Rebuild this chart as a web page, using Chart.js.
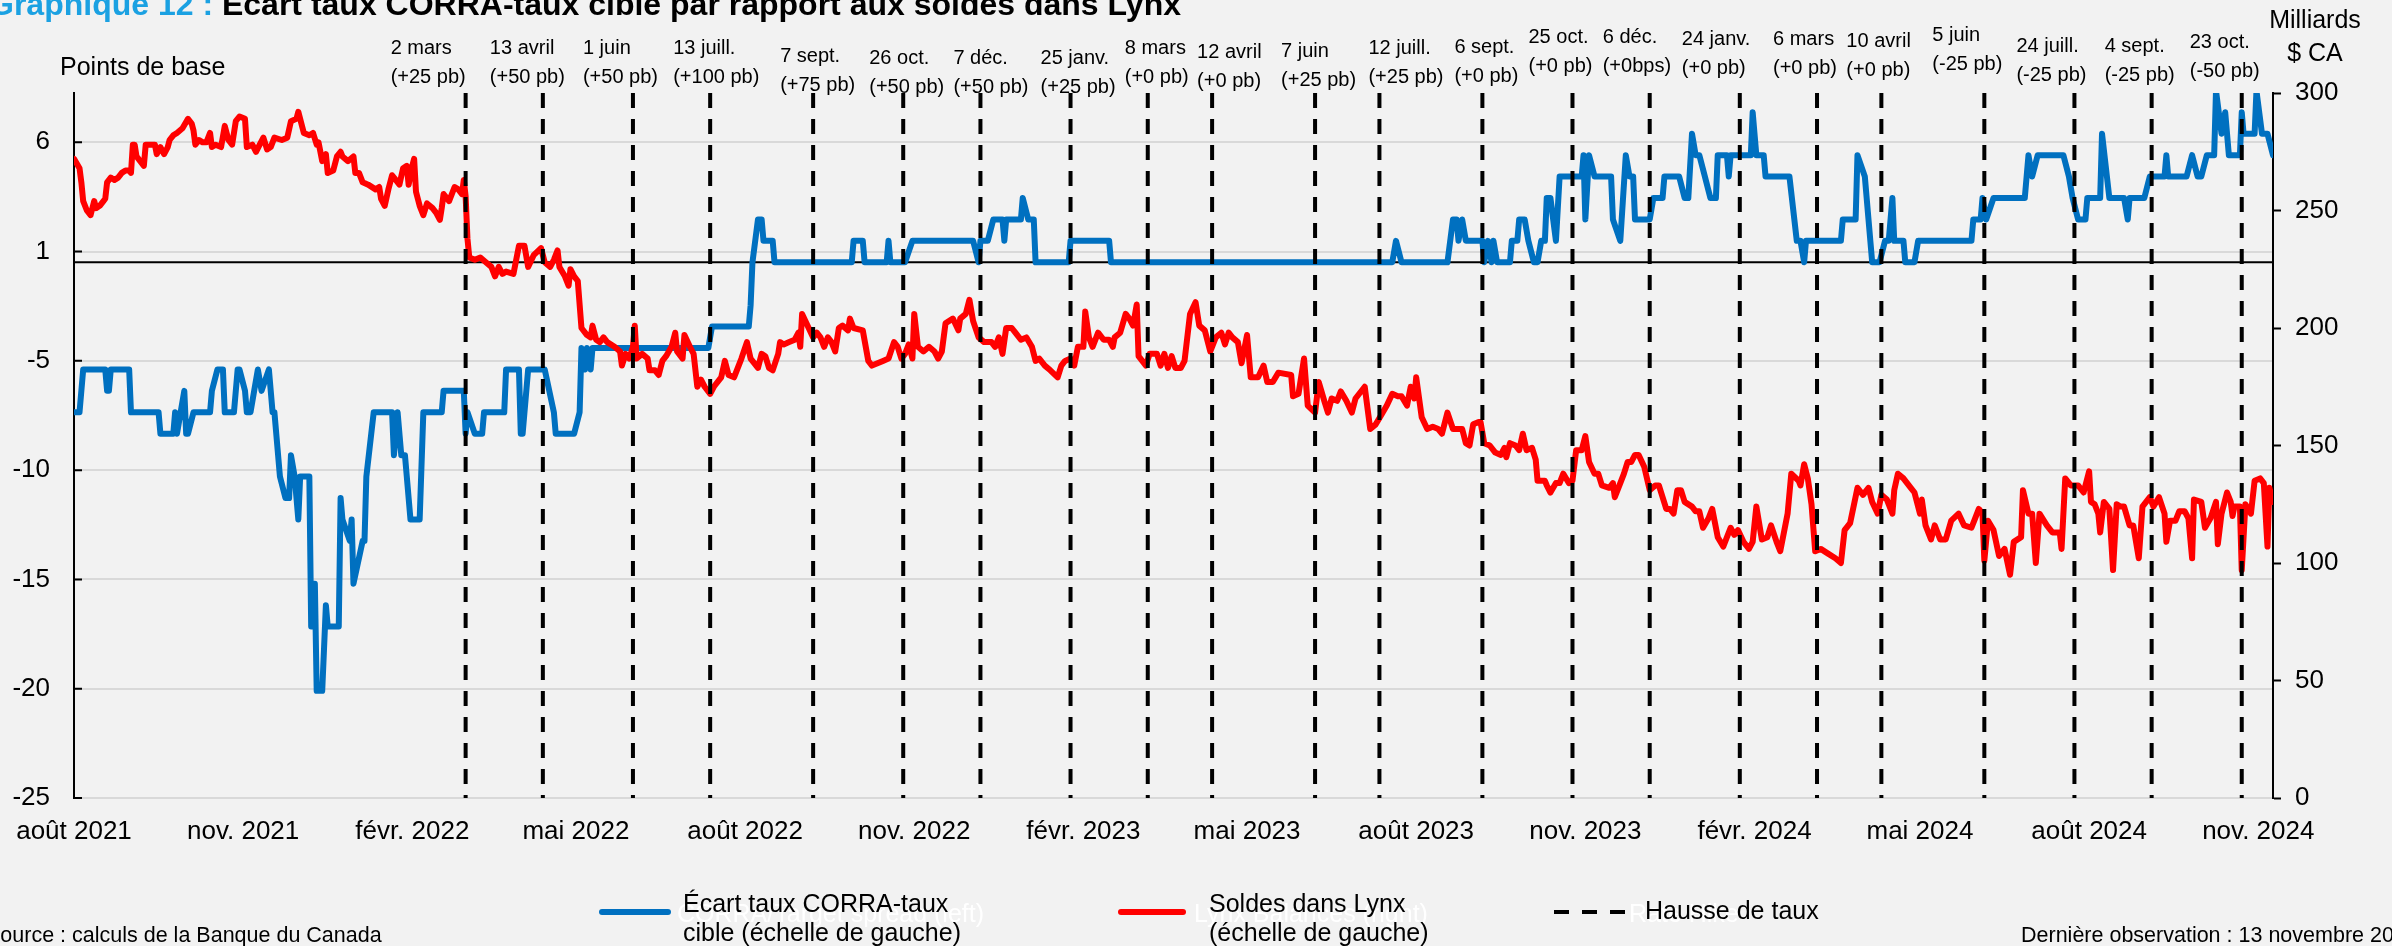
<!DOCTYPE html>
<html lang="fr">
<head>
<meta charset="utf-8">
<title>Écart taux CORRA-taux cible par rapport aux soldes dans Lynx</title>
<script src="https://cdn.jsdelivr.net/npm/chart.js@4.4.1/dist/chart.umd.min.js"></script>
<style>
  html, body { margin: 0; padding: 0; background: #f2f2f2; overflow: hidden; }
  body { width: 2392px; height: 946px; position: relative; color: #000;
         font-family: "Liberation Sans", Arial, sans-serif; }
  canvas { position: absolute; left: 0; top: 0; }
  .txt { position: absolute; white-space: nowrap; }
  #title { left: -11px; top: -12px; font-size: 32px; line-height: 32px; font-weight: bold; }
  #title .lead { color: #1ba1e2; }
  #leftUnit { left: 60px; top: 51px; font-size: 25px; line-height: 30px; }
  #rightUnit { left: 2255px; top: 3px; width: 120px; text-align: center; font-size: 25px; line-height: 33px; }
  .legend { font-size: 25px; line-height: 29px; }
  .ghost { color: #fff; }
  #legendMarks { position: absolute; left: 0; top: 890px; }
  .foot { font-size: 21.5px; line-height: 26px; top: 922px; }
</style>
</head>
<body>
<canvas id="corraChart" width="2392" height="946"></canvas>

<div id="title" class="txt"><span class="lead">Graphique 12 : </span>Écart taux CORRA-taux cible par rapport aux soldes dans Lynx</div>
<div id="leftUnit" class="txt">Points de base</div>
<div id="rightUnit" class="txt">Milliards<br>$ CA</div>

<svg id="legendMarks" width="2392" height="44">
  <line x1="602" y1="22" x2="668" y2="22" stroke="#0070c0" stroke-width="6" stroke-linecap="round"/>
  <line x1="1121" y1="22" x2="1183" y2="22" stroke="#ff0000" stroke-width="6" stroke-linecap="round"/>
  <line x1="1554" y1="22" x2="1625" y2="22" stroke="#000" stroke-width="4" stroke-dasharray="15 13"/>
</svg>
<div class="txt legend ghost" style="left:677px; top:899px;">CORRA/Target spread (left)</div>
<div class="txt legend" style="left:683px; top:889px;">Écart taux CORRA-taux<br>cible (échelle de gauche)</div>
<div class="txt legend ghost" style="left:1194px; top:899px;">Lynx Balances (right)</div>
<div class="txt legend" style="left:1209px; top:889px;">Soldes dans Lynx<br>(échelle de gauche)</div>
<div class="txt legend ghost" style="left:1629px; top:899px;">Rate Hike</div>
<div class="txt legend" style="left:1645px; top:896px;">Hausse de taux</div>

<div class="txt foot" style="left:-14px;">Source : calculs de la Banque du Canada</div>
<div class="txt foot" style="left:2021px;">Dernière observation : 13 novembre 2024</div>

<script>
// x positions are days counted from 1 August 2021
const START = Date.UTC(2021, 7, 1);
const dayOf = (iso) => Math.round((Date.parse(iso) - START) / 86400000);

// CORRA - target spread, basis points (left scale)
const spreadDay = [
  0, 3, 5, 17, 18, 19, 20, 30, 31, 46, 47, 54, 55, 56, 60, 61, 62, 65, 74, 75,
  78, 81, 82, 87, 89, 90, 93, 94, 96, 98, 100, 102, 106, 108, 109, 112, 115, 117, 118, 120,
  122, 123, 128, 129, 130, 131, 132, 135, 136, 137, 138, 144, 145, 146, 150, 151, 152, 157, 158, 159,
  163, 173, 174, 176, 178, 180, 183, 188, 190, 200, 201, 212, 213, 214, 218, 222, 223, 234, 235, 242,
  243, 244, 247, 256, 261, 262, 272, 275, 276, 278, 279, 281, 282,
  345, 347, 367, 368, 369, 372, 374, 375, 380, 381, 423, 424, 429, 430, 442, 443, 444, 452, 456, 489,
  492, 493, 497, 500, 505, 506, 507, 515, 516, 519, 522, 523, 541, 542, 563, 564,
  717, 719, 722, 747, 750, 752, 753, 755, 757, 766, 767, 769, 771, 772, 774, 781, 782, 785, 786, 789,
  791, 794, 796, 798, 800, 801, 803, 806, 808, 820, 821, 822, 824, 827, 836, 837, 841, 844, 846, 848,
  849, 857, 859, 864, 865, 873,
  876, 878, 880, 882, 884, 887, 890, 893, 894, 899, 900, 901, 912, 913, 915, 919, 920, 933, 937, 939,
  941, 942, 961, 962, 969, 970, 974, 976, 978, 982, 985, 987, 989, 990, 995, 996, 1001, 1003, 1032, 1033,
  1037, 1038, 1040, 1044, 1061, 1063, 1065, 1068, 1082, 1085, 1087, 1090, 1094, 1095, 1102, 1103, 1107, 1115, 1117, 1118,
  1126, 1129, 1137, 1138, 1139, 1149, 1152, 1155, 1157, 1160, 1164, 1165, 1168, 1170, 1172, 1178, 1179, 1180, 1186, 1187,
  1190, 1193, 1196
];
const spreadBp = [
  -7, -7, -5, -5, -6, -6, -5, -5, -7, -7, -8, -8, -7, -8, -6, -8, -8, -7, -7, -6,
  -5, -5, -7, -7, -5, -5, -6, -7, -7, -6, -5, -6, -5, -7, -7, -10, -11, -11, -9, -10,
  -12, -10, -10, -17, -15, -15, -20, -20, -18, -16, -17, -17, -11, -12, -13, -12, -15, -13, -13, -10,
  -7, -7, -9, -7, -9, -9, -12, -12, -7, -7, -6, -6, -8, -7, -8, -8, -7, -7, -5, -5,
  -8, -8, -5, -5, -7, -8, -8, -7, -4, -5, -4, -5, -4,
  -4, -3, -3, -2, 0, 2, 2, 1, 1, 0, 0, 1, 1, 0, 0, 1, 0, 0, 1, 1,
  0, 1, 1, 2, 2, 1, 2, 2, 3, 2, 2, 0, 0, 1, 1, 0,
  0, 1, 0, 0, 2, 2, 1, 2, 1, 1, 0, 1, 0, 1, 0, 0, 1, 1, 2, 2,
  1, 0, 0, 1, 1, 3, 3, 1, 4, 4, 5, 2, 5, 4, 4, 2, 1, 5, 4, 4,
  2, 2, 3, 3, 4, 4,
  3, 3, 6, 5, 5, 4, 3, 3, 5, 5, 4, 5, 5, 7, 5, 5, 4, 4, 1, 1,
  0, 1, 1, 2, 2, 5, 4, 2, 0, 0, 1, 1, 3, 1, 1, 0, 0, 1, 1, 2,
  2, 3, 2, 3, 3, 5, 4, 5, 5, 4, 3, 2, 2, 3, 3, 6, 3, 3, 2, 3,
  3, 4, 4, 5, 4, 4, 5, 4, 4, 5, 5, 8, 6, 7, 5, 5, 7, 6, 6, 8,
  6, 6, 5
];

// Lynx balances, billions of CAD (right scale)
const lynxDay = [
  0, 3, 4, 5, 7, 9, 11, 12, 14, 16, 17, 18, 20, 22, 24, 26, 28, 30, 31, 32,
  33, 34, 36, 38, 39, 42, 44, 45, 47, 49, 51, 52, 54, 56, 59, 62, 64, 65, 66, 68,
  70, 72, 74, 75, 77, 80, 82, 83, 84, 86, 88, 90, 93, 94, 97, 99, 101, 103, 105, 107,
  109, 113, 116, 118, 121, 122, 125, 128, 130, 132, 133, 135, 137, 138, 141, 143, 145, 146, 149, 152,
  153, 155, 157, 160, 164, 166, 167, 169, 171, 173, 175, 177, 179, 181, 182, 184, 185, 186, 188, 190,
  192, 195, 197, 199, 200, 201, 204, 207, 209, 211, 212, 213, 214, 215, 218, 221, 224, 227, 229, 231,
  233, 235, 239, 240, 242, 245, 247, 250, 254, 256, 259, 261, 263, 264, 267, 269, 270, 272, 274, 276,
  279, 281, 282, 284,
  286, 288, 290, 294, 297, 298, 300, 302, 304, 305, 306, 309, 312, 313, 316, 318, 320, 322, 325, 327,
  328, 331, 332, 335, 337, 339, 341, 343, 346, 348, 352, 354, 356, 359, 363, 366, 368, 372, 374, 376,
  378, 380, 383, 384, 386, 389, 392, 394, 395, 396, 399, 402, 404, 406, 408, 410, 412, 414, 416, 418,
  421, 422, 424, 429, 432, 434, 437, 440, 443, 446, 448, 450, 452, 454, 456, 457, 459, 462, 465, 468,
  470, 472, 474, 478, 481, 482, 485, 487, 489, 492, 495, 499, 501, 503, 505, 507, 510, 512, 515, 518,
  521, 523, 525, 528, 531, 535, 537, 539, 542, 544, 546, 549, 550, 552, 554, 557, 560, 563, 565, 566,
  569, 572, 574, 576, 578, 579,
  581, 583, 585, 589, 591, 593, 595, 597, 599, 602, 604, 607, 610, 612, 615, 618, 621, 624, 626, 628,
  630, 633, 635, 638, 640, 644, 647, 649, 652, 655, 662, 663, 666, 669, 671, 675, 677, 680, 682, 684,
  687, 689, 692, 695, 697, 702, 705, 708, 711, 714, 717, 720, 722, 725, 727, 729, 730, 733, 736, 739,
  742, 744, 747, 750, 753, 755, 757, 759, 761, 764, 765, 767, 770, 773, 776, 778, 779, 781, 784, 786,
  788, 790, 793, 795, 796, 800, 801, 803, 806, 808, 810, 813, 815, 817, 820, 822, 824, 827, 829, 831,
  835, 837, 838, 841, 843, 845, 847, 849, 851, 854, 857, 860, 862, 864, 866, 868, 870, 872,
  874, 876, 880, 882, 884, 886, 889, 891, 894, 897, 901, 903, 905, 908, 911, 913, 915, 918, 921, 923,
  926, 928, 932, 934, 938, 939, 941, 943, 945, 947, 950, 954, 958, 961, 963, 966, 970, 973, 976, 978,
  981, 983, 986, 989, 990, 992, 995, 999, 1001, 1004, 1005, 1007, 1010, 1012, 1015, 1018, 1021, 1025, 1028, 1032,
  1034, 1036, 1038, 1039, 1041, 1044, 1047, 1050, 1053, 1055, 1059, 1060, 1063, 1065, 1067, 1069, 1073, 1076, 1080, 1081,
  1083, 1086, 1090, 1093, 1096, 1097, 1099, 1101, 1102, 1104, 1107, 1109, 1111, 1113, 1115, 1118, 1120, 1123, 1125, 1129,
  1131, 1134, 1137, 1138, 1140, 1143, 1145, 1148, 1150, 1152, 1153, 1157, 1159, 1162, 1165, 1166, 1168, 1171, 1173, 1174,
  1175, 1178, 1179, 1181, 1184, 1186, 1189, 1191, 1193, 1194, 1196
];
const lynxBn = [
  272, 268, 262, 254, 250, 248, 254, 251, 252, 254, 255, 262, 264, 263, 264, 266, 267, 267, 266, 278,
  278, 273, 271, 269, 278, 278, 278, 274, 277, 274, 277, 280, 282, 283, 285, 289, 287, 284, 278, 280,
  279, 279, 283, 277, 278, 277, 286, 283, 280, 278, 288, 290, 289, 277, 278, 275, 278, 281, 276, 277,
  281, 280, 281, 288, 289, 292, 283, 282, 283, 278, 279, 271, 274, 266, 267, 273, 275, 273, 271, 273,
  266, 266, 262, 261, 259, 260, 255, 252, 259, 265, 263, 261, 268, 269, 261, 269, 272, 258, 252, 248,
  253, 251, 249, 246, 251, 257, 254, 260, 259, 257, 263, 256, 238, 230, 229, 230, 228, 226, 222, 226,
  223, 224, 223, 227, 235, 235, 226, 231, 234, 228, 226, 229, 233, 226, 222, 218, 225, 222, 220, 200,
  197, 196, 201, 195,
  194, 196, 194, 192, 190, 184, 189, 187, 192, 201, 187, 189, 187, 182, 182, 180, 186, 188, 192, 198,
  190, 187, 197, 192, 189, 175, 178, 175, 172, 175, 179, 186, 180, 179, 187, 194, 187, 183, 189, 188,
  183, 182, 189, 194, 193, 194, 195, 198, 192, 206, 201, 196, 198, 196, 192, 196, 194, 190, 200, 201,
  199, 204, 200, 199, 186, 184, 185, 186, 187, 194, 192, 187, 189, 193, 187, 206, 192, 190, 192, 190,
  187, 190, 202, 204, 199, 204, 206, 212, 203, 196, 194, 194, 192, 196, 189, 200, 200, 198, 195, 196,
  192, 186, 187, 184, 182, 179, 184, 186, 187, 184, 192, 192, 207, 196, 192, 198, 195, 195, 192, 196,
  198, 206, 204, 201, 210, 188,
  186, 184, 189, 189, 184, 189, 183, 188, 183, 183, 186, 206, 211, 201, 199, 190, 196, 198, 193, 198,
  196, 194, 185, 197, 179, 179, 184, 177, 177, 181, 180, 171, 172, 187, 167, 164, 177, 169, 164, 170,
  169, 173, 169, 164, 170, 175, 157, 159, 163, 167, 172, 171, 171, 167, 175, 170, 179, 162, 157, 158,
  157, 155, 164, 157, 157, 157, 151, 150, 159, 160, 160, 151, 150, 147, 146, 149, 145, 151, 150, 148,
  155, 148, 149, 144, 135, 135, 133, 130, 134, 134, 138, 134, 135, 148, 148, 154, 143, 138, 138, 133,
  132, 134, 128, 134, 138, 143, 143, 146, 146, 141, 131, 133, 133, 128, 123, 123, 121, 131,
  131, 126, 124, 122, 122, 115, 119, 123, 111, 107, 115, 112, 114, 109, 106, 109, 124, 110, 111, 116,
  109, 105, 121, 138, 135, 133, 142, 136, 125, 105, 106, 104, 102, 100, 114, 117, 132, 129, 132, 126,
  121, 129, 127, 121, 131, 138, 136, 132, 130, 121, 127, 116, 110, 116, 110, 110, 118, 121, 116, 115,
  119, 123, 121, 101, 118, 114, 103, 106, 95, 109, 111, 131, 121, 121, 100, 121, 116, 113, 113, 106,
  136, 133, 133, 130, 139, 126, 125, 121, 113, 126, 123, 97, 125, 124, 124, 116, 116, 102, 124, 128,
  124, 128, 121, 109, 118, 118, 122, 122, 119, 102, 127, 126, 115, 119, 126, 108, 121, 130, 126, 120,
  124, 124, 97, 125, 121, 135, 136, 134, 107, 132, 126
];

// Bank of Canada rate announcements
const rateDates = [
  '2022-03-02', '2022-04-13', '2022-06-01', '2022-07-13', '2022-09-07', '2022-10-26',
  '2022-12-07', '2023-01-25', '2023-03-08', '2023-04-12', '2023-06-07', '2023-07-12',
  '2023-09-06', '2023-10-25', '2023-12-06', '2024-01-24', '2024-03-06', '2024-04-10',
  '2024-06-05', '2024-07-24', '2024-09-04', '2024-10-23'
];
const rateDayLabels = [
  '2 mars', '13 avril', '1 juin', '13 juill.', '7 sept.', '26 oct.',
  '7 déc.', '25 janv.', '8 mars', '12 avril', '7 juin', '12 juill.',
  '6 sept.', '25 oct.', '6 déc.', '24 janv.', '6 mars', '10 avril',
  '5 juin', '24 juill.', '4 sept.', '23 oct.'
];
const rateMoves = [
  '(+25 pb)', '(+50 pb)', '(+50 pb)', '(+100 pb)', '(+75 pb)', '(+50 pb)',
  '(+50 pb)', '(+25 pb)', '(+0 pb)', '(+0 pb)', '(+25 pb)', '(+25 pb)',
  '(+0 pb)', '(+0 pb)', '(+0bps)', '(+0 pb)', '(+0 pb)', '(+0 pb)',
  '(-25 pb)', '(-25 pb)', '(-25 pb)', '(-50 pb)'
];
// label placement: [left offset from the dashed line, first-line height]
const noteNudge = [
  [-75, 48], [-53, 48], [-50, 48], [-37, 48], [-33, 56], [-34, 58],
  [-27, 58], [-30, 58], [-23, 48], [-15, 52], [-34, 51], [-11, 48],
  [-28, 47], [-44, 37], [-47, 37], [-58, 39], [-44, 39], [-35, 41],
  [-52, 35], [-58, 46], [-47, 46], [-52, 42]
];

const quarterDates = [
  '2021-08-01', '2021-11-01', '2022-02-01', '2022-05-01', '2022-08-01', '2022-11-01', '2023-02-01',
  '2023-05-01', '2023-08-01', '2023-11-01', '2024-02-01', '2024-05-01', '2024-08-01', '2024-11-01'
];
const quarterLabels = [
  'août 2021', 'nov. 2021', 'févr. 2022', 'mai 2022', 'août 2022', 'nov. 2022', 'févr. 2023',
  'mai 2023', 'août 2023', 'nov. 2023', 'févr. 2024', 'mai 2024', 'août 2024', 'nov. 2024'
];
const leftTickValues = [-25, -19.9, -14.8, -9.7, -4.6, 0.5, 5.6];
const leftTickLabels = ['-25', '-20', '-15', '-10', '-5', '1', '6'];
const LEFT_MIN = -25;
const LEFT_MAX = 7.9;
const LAST_DAY = 1196;

const FONT = '"Liberation Sans", Arial, sans-serif';
const quarterDays = quarterDates.map(dayOf);

const rateLinePoints = [];
rateDates.forEach((d) => {
  const x = dayOf(d);
  rateLinePoints.push({ x: x, y: LEFT_MAX }, { x: x, y: LEFT_MIN }, { x: x, y: null });
});

// zero line, inward ticks on the left axis, and the rate labels
const chartDecor = {
  id: 'chartDecor',
  beforeDatasetsDraw(chart) {
    const { ctx, chartArea, scales } = chart;
    const yl = scales.yLeft;
    ctx.save();
    ctx.strokeStyle = '#000';
    ctx.lineWidth = 2;
    ctx.beginPath();
    const y0 = yl.getPixelForValue(0);
    ctx.moveTo(chartArea.left, y0);
    ctx.lineTo(chartArea.right, y0);
    leftTickValues.forEach((v) => {
      const y = yl.getPixelForValue(v);
      ctx.moveTo(chartArea.left, y);
      ctx.lineTo(chartArea.left + 8, y);
    });
    ctx.stroke();
    ctx.restore();
  },
  afterDraw(chart) {
    const { ctx, scales } = chart;
    ctx.save();
    ctx.fillStyle = '#000';
    ctx.font = '20px ' + FONT;
    ctx.textAlign = 'left';
    ctx.textBaseline = 'middle';
    rateDates.forEach((d, i) => {
      const x = scales.x.getPixelForValue(dayOf(d)) + noteNudge[i][0];
      const y = noteNudge[i][1];
      ctx.fillText(rateDayLabels[i], x, y);
      ctx.fillText(rateMoves[i], x, y + 29);
    });
    ctx.restore();
  }
};

Chart.defaults.color = '#000';
Chart.defaults.font.family = FONT;

new Chart(document.getElementById('corraChart'), {
  type: 'line',
  data: {
    datasets: [
      {
        label: 'Hausse de taux',
        data: rateLinePoints,
        yAxisID: 'yLeft',
        borderColor: '#000',
        borderWidth: 4,
        borderDash: [15, 11],
        pointRadius: 0,
        spanGaps: false,
        order: 0
      },
      {
        label: 'Soldes dans Lynx',
        data: lynxDay.map((d, i) => ({ x: d, y: lynxBn[i] })),
        yAxisID: 'yRight',
        borderColor: '#ff0000',
        borderWidth: 6,
        borderJoinStyle: 'round',
        borderCapStyle: 'round',
        pointRadius: 0,
        tension: 0,
        order: 1
      },
      {
        label: 'Écart taux CORRA-taux cible',
        data: spreadDay.map((d, i) => ({ x: d, y: spreadBp[i] })),
        yAxisID: 'yLeft',
        borderColor: '#0070c0',
        borderWidth: 6,
        borderJoinStyle: 'round',
        borderCapStyle: 'round',
        pointRadius: 0,
        tension: 0,
        order: 2
      }
    ]
  },
  options: {
    responsive: false,
    animation: false,
    devicePixelRatio: 1,
    layout: { padding: { top: 93, left: 0, right: 0, bottom: 0 } },
    plugins: { legend: { display: false }, title: { display: false }, tooltip: { enabled: false } },
    scales: {
      x: {
        type: 'linear',
        min: 0,
        max: LAST_DAY,
        border: { display: false },
        grid: { display: true, drawOnChartArea: false, drawTicks: true, tickLength: 18, tickColor: 'rgba(0,0,0,0)' },
        afterBuildTicks: (s) => { s.ticks = quarterDays.map((v) => ({ value: v })); },
        afterFit: (s) => { s.height = 148; },
        ticks: {
          autoSkip: false,
          maxRotation: 0,
          padding: 0,
          font: { size: 26 },
          callback: (v) => quarterLabels[quarterDays.indexOf(v)]
        }
      },
      yLeft: {
        type: 'linear',
        position: 'left',
        min: LEFT_MIN,
        max: LEFT_MAX,
        border: { display: true, color: '#000', width: 2 },
        grid: { color: '#d9d9d9', lineWidth: 2, drawTicks: false },
        afterBuildTicks: (s) => { s.ticks = leftTickValues.map((v) => ({ value: v })); },
        afterFit: (s) => { s.width = 74; },
        ticks: {
          padding: 24,
          font: { size: 26 },
          callback: (v) => leftTickLabels[leftTickValues.indexOf(v)]
        }
      },
      yRight: {
        type: 'linear',
        position: 'right',
        min: 0,
        max: 300,
        border: { display: true, color: '#000', width: 2 },
        grid: { drawOnChartArea: false, drawTicks: true, tickLength: 8, tickColor: '#000', tickWidth: 2 },
        afterFit: (s) => { s.width = 119; },
        ticks: { stepSize: 50, padding: 14, font: { size: 26 } }
      }
    }
  },
  plugins: [chartDecor]
});
</script>
</body>
</html>
